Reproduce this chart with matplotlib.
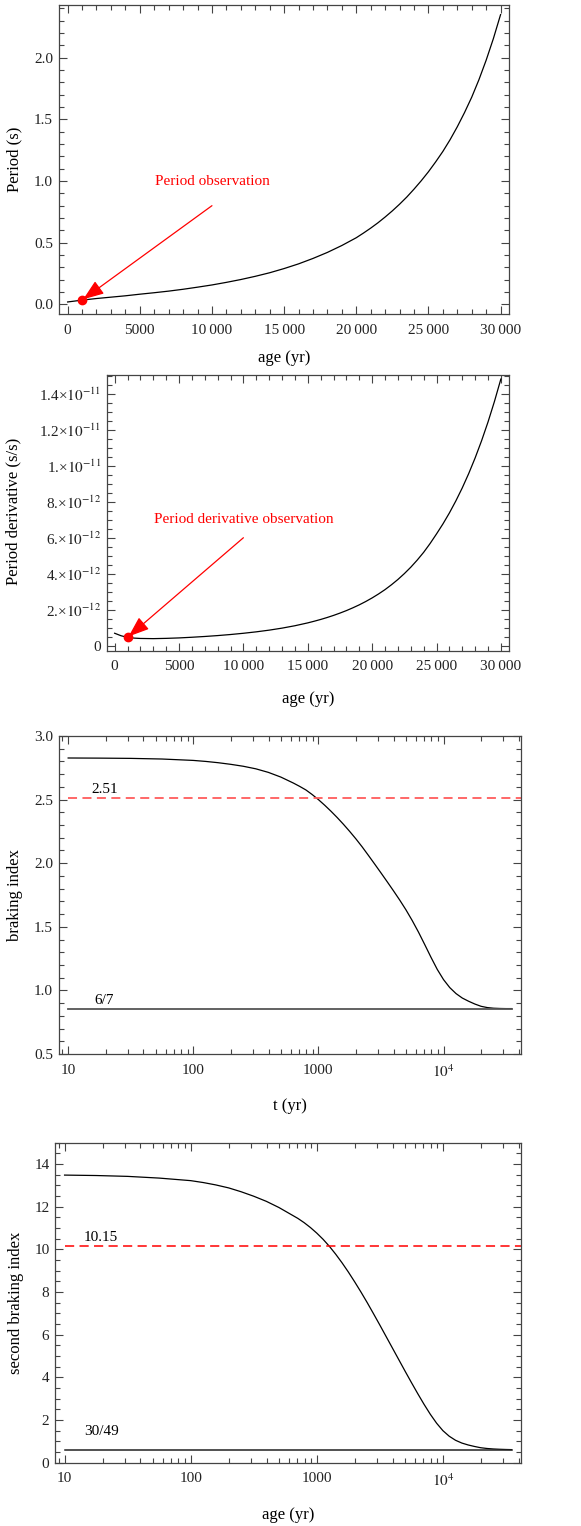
import matplotlib
matplotlib.use("Agg")
import matplotlib.pyplot as plt
from matplotlib.ticker import MultipleLocator, FixedLocator, FixedFormatter, LogLocator, NullFormatter, FuncFormatter

plt.rcParams['font.family'] = ['Liberation Serif', 'DejaVu Serif']
plt.rcParams['mathtext.fontset'] = 'stix'
plt.rcParams['font.size'] = 11

# panel 1: period vs age
age_p = [0, 1000, 2000, 3000, 4000, 5000, 6000, 7000, 8000, 9000, 10000,
         11000, 12000, 13000, 14000, 15000, 16000, 17000, 18000, 19000, 20000,
         20500, 21000, 21500, 22000, 22500, 23000, 23500, 24000, 24500, 25000,
         25500, 26000, 26500, 27000, 27500, 28000, 28500, 29000, 29500, 30000]
period = [0.019, 0.034, 0.047, 0.058, 0.069, 0.082, 0.094, 0.107, 0.122, 0.139, 0.157,
          0.178, 0.201, 0.227, 0.256, 0.290, 0.328, 0.372, 0.421, 0.477, 0.540,
          0.578, 0.618, 0.661, 0.708, 0.758, 0.812, 0.870, 0.934, 1.002, 1.075,
          1.155, 1.240, 1.335, 1.440, 1.555, 1.680, 1.822, 1.980, 2.155, 2.350]
obs_p = (1000, 0.034)

# panel 2: period derivative vs age (units of 1e-12 s/s)
age_pd = [0, 500, 1000, 1500, 2000, 3000, 4000, 5000, 6000, 7000, 8000, 9000, 10000,
          11000, 12000, 13000, 14000, 15000, 15500, 16000, 16500, 17000, 17500,
          18000, 18500, 19000, 19500, 20000, 20500, 21000, 21500, 22000, 22500,
          23000, 23500, 24000, 24500, 25000, 25500, 26000, 26500, 27000, 27500,
          28000, 28500, 29000, 29500, 30000]
pdot = [0.69, 0.55, 0.46, 0.42, 0.40, 0.39, 0.405, 0.43, 0.467, 0.510, 0.560, 0.619, 0.688,
        0.768, 0.862, 0.974, 1.107, 1.266, 1.358, 1.456, 1.564, 1.681, 1.810,
        1.949, 2.103, 2.269, 2.453, 2.654, 2.875, 3.115, 3.385, 3.678, 4.004,
        4.360, 4.756, 5.188, 5.677, 6.211, 6.769, 7.377, 8.044, 8.770, 9.567,
        10.437, 11.391, 12.433, 13.577, 14.825]
pdot = [v * 1e-12 for v in pdot]
obs_pd = (1000, 0.46e-12)

# panels 3 and 4: ages on a log grid
age_n = [10, 17.8, 31.6, 56.2, 100, 126, 158, 200, 251, 316, 398, 501, 631, 708, 794,
         891, 1000, 1122, 1259, 1413, 1585, 1778, 1995, 2239, 2512, 2818, 3162,
         3548, 3981, 4467, 5012, 5623, 6310, 7079, 7943, 8913, 10000, 11220, 12589,
         14125, 15849, 17783, 19953, 22387, 25119, 28184, 31623, 35000]
n_idx = [2.827, 2.826, 2.824, 2.819, 2.808, 2.800, 2.790, 2.777, 2.762, 2.742, 2.714,
         2.677, 2.630, 2.604, 2.576, 2.540, 2.500, 2.456, 2.409, 2.359, 2.306, 2.250,
         2.191, 2.128, 2.061, 1.993, 1.924, 1.854, 1.783, 1.710, 1.633, 1.549, 1.458,
         1.360, 1.260, 1.165, 1.085, 1.022, 0.975, 0.940, 0.915, 0.893, 0.875, 0.865,
         0.860, 0.858, 0.857, 0.857]
n_obs = 2.51
n_lim = 6 / 7

m_idx = [13.48, 13.46, 13.42, 13.34, 13.22, 13.13, 13.02, 12.88, 12.70, 12.49, 12.25,
         11.96, 11.62, 11.45, 11.25, 11.02, 10.76, 10.47, 10.14, 9.77, 9.37, 8.94,
         8.48, 8.00, 7.50, 6.98, 6.45, 5.91, 5.37, 4.83, 4.29, 3.76, 3.24, 2.74,
         2.27, 1.85, 1.50, 1.24, 1.05, 0.92, 0.83, 0.76, 0.70, 0.665, 0.642, 0.628,
         0.618, 0.612]
m_obs = 10.15
m_lim = 30 / 49

fig = plt.figure(figsize=(5.81, 15.26), dpi=100)
frame_col = '#444444'
arrow_kw = dict(arrowstyle='-|>,head_length=0.75,head_width=0.28', color='red',
                lw=0.9, mutation_scale=17, shrinkA=0, shrinkB=1)


def style(ax):
    for s in ax.spines.values():
        s.set_color(frame_col)
        s.set_linewidth(0.9)
    ax.tick_params(which='both', direction='in', top=True, right=True,
                   color=frame_col, width=0.8, labelcolor='#222222', labelsize=11)
    ax.tick_params(which='major', length=6, pad=4)
    ax.tick_params(which='minor', length=3.5)
    ax.tick_params(axis='x', which='major', pad=7)


def age_fmt(v, pos):
    v = int(round(v))
    if v < 10000:
        return str(v)
    return f"{v // 1000}\u2009{v % 1000:03d}"


def log_axis(ax):
    ax.set_xscale('log')
    ax.xaxis.set_major_locator(FixedLocator([10, 100, 1000, 10000]))
    ax.xaxis.set_major_formatter(FixedFormatter(['10', '100', '1000', r'$10^4$']))
    ax.xaxis.set_minor_locator(LogLocator(subs=range(2, 10)))
    ax.xaxis.set_minor_formatter(NullFormatter())
    ax.set_xlim(8.4, 41600)


# ---- panel 1
ax1 = fig.add_axes([0.101, 0.7942, 0.775, 0.2027])
ax1.plot(age_p, period, color='black', lw=0.9)
ax1.plot(*obs_p, 'o', color='red', ms=6, zorder=5)
ax1.annotate('', xy=obs_p, xytext=(10000, 0.8), arrowprops=arrow_kw)
ax1.text(10000, 1.0, 'Period observation', color='red', ha='center', va='center', fontsize=11)
ax1.set_xlim(-620, 30580)
ax1.set_ylim(-0.079, 2.43)
ax1.xaxis.set_major_locator(MultipleLocator(5000))
ax1.xaxis.set_minor_locator(MultipleLocator(1000))
ax1.xaxis.set_major_formatter(FuncFormatter(age_fmt))
ax1.yaxis.set_major_locator(MultipleLocator(0.5))
ax1.yaxis.set_minor_locator(MultipleLocator(0.1))
ax1.yaxis.set_major_formatter(FuncFormatter(lambda v, p: f"{v:.1f}"))
style(ax1)
ax1.set_xlabel('age (yr)', fontsize=12)
ax1.set_ylabel('Period (s)', fontsize=12)
ax1.xaxis.set_label_coords(0.5, -0.116)
ax1.yaxis.set_label_coords(-0.0815, 0.5)

# ---- panel 2
ax2 = fig.add_axes([0.1836, 0.5736, 0.692, 0.1809])
ax2.plot(age_pd, pdot, color='black', lw=0.9)
ax2.plot(*obs_pd, 'o', color='red', ms=6, zorder=5)
ax2.annotate('', xy=obs_pd, xytext=(10000, 6.0e-12), arrowprops=arrow_kw)
ax2.text(10000, 7.0e-12, 'Period derivative observation', color='red',
         ha='center', va='center', fontsize=11)
ax2.set_xlim(-620, 30610)
ax2.set_ylim(-0.28e-12, 15.07e-12)
ax2.xaxis.set_major_locator(MultipleLocator(5000))
ax2.xaxis.set_minor_locator(MultipleLocator(1000))
ax2.xaxis.set_major_formatter(FuncFormatter(age_fmt))
pd_ticks = [0, 2e-12, 4e-12, 6e-12, 8e-12, 1e-11, 1.2e-11, 1.4e-11]
pd_labels = ['0', '2.×' + r'$10^{-12}$', '4.×' + r'$10^{-12}$', '6.×' + r'$10^{-12}$',
             '8.×' + r'$10^{-12}$', '1.×' + r'$10^{-11}$', '1.2×' + r'$10^{-11}$',
             '1.4×' + r'$10^{-11}$']
ax2.yaxis.set_major_locator(FixedLocator(pd_ticks))
ax2.yaxis.set_major_formatter(FixedFormatter(pd_labels))
ax2.yaxis.set_minor_locator(MultipleLocator(0.5e-12))
style(ax2)
ax2.set_xlabel('age (yr)', fontsize=12)
ax2.set_ylabel('Period derivative (s/s)', fontsize=12)
ax2.xaxis.set_label_coords(0.5, -0.146)
ax2.yaxis.set_label_coords(-0.211, 0.504)

# ---- panel 3
ax3 = fig.add_axes([0.101, 0.3093, 0.7957, 0.2084])
ax3.plot(age_n, n_idx, color='black', lw=0.9)
ax3.plot([10, 60000], [n_obs, n_obs], color='#ff5c5c', lw=1.3, dashes=(5, 3))
ax3.plot([10, 35000], [n_lim, n_lim], color='#555555', lw=1.3)
ax3.text(19.5, n_obs + 0.015, '2.51', ha='center', va='bottom', fontsize=11)
ax3.text(19.5, n_lim + 0.015, '6/7', ha='center', va='bottom', fontsize=11)
log_axis(ax3)
ax3.set_ylim(0.5, 3.0)
ax3.yaxis.set_major_locator(MultipleLocator(0.5))
ax3.yaxis.set_minor_locator(MultipleLocator(0.1))
ax3.yaxis.set_major_formatter(FuncFormatter(lambda v, p: f"{v:.1f}"))
style(ax3)
ax3.set_xlabel('t (yr)', fontsize=12)
ax3.set_ylabel('braking index', fontsize=12)
ax3.xaxis.set_label_coords(0.5, -0.138)
ax3.yaxis.set_label_coords(-0.078, 0.5)

# ---- panel 4
ax4 = fig.add_axes([0.0947, 0.0415, 0.802, 0.2097])
ax4.plot(age_n, m_idx, color='black', lw=0.9)
ax4.plot([10, 60000], [m_obs, m_obs], color='red', lw=1.1, dashes=(6, 3.5))
ax4.plot([10, 35000], [m_lim, m_lim], color='#222222', lw=1.1)
ax4.text(19.5, m_obs + 0.1, '10.15', ha='center', va='bottom', fontsize=11)
ax4.text(19.5, m_lim + 0.55, '30/49', ha='center', va='bottom', fontsize=11)
log_axis(ax4)
ax4.set_ylim(0, 15)
ax4.yaxis.set_major_locator(MultipleLocator(2))
ax4.yaxis.set_minor_locator(MultipleLocator(0.5))
style(ax4)
ax4.set_xlabel('age (yr)', fontsize=12)
ax4.set_ylabel('second braking index', fontsize=12)
ax4.xaxis.set_label_coords(0.5, -0.138)
ax4.yaxis.set_label_coords(-0.0665, 0.5)

fig.savefig('out.png', dpi=100)
